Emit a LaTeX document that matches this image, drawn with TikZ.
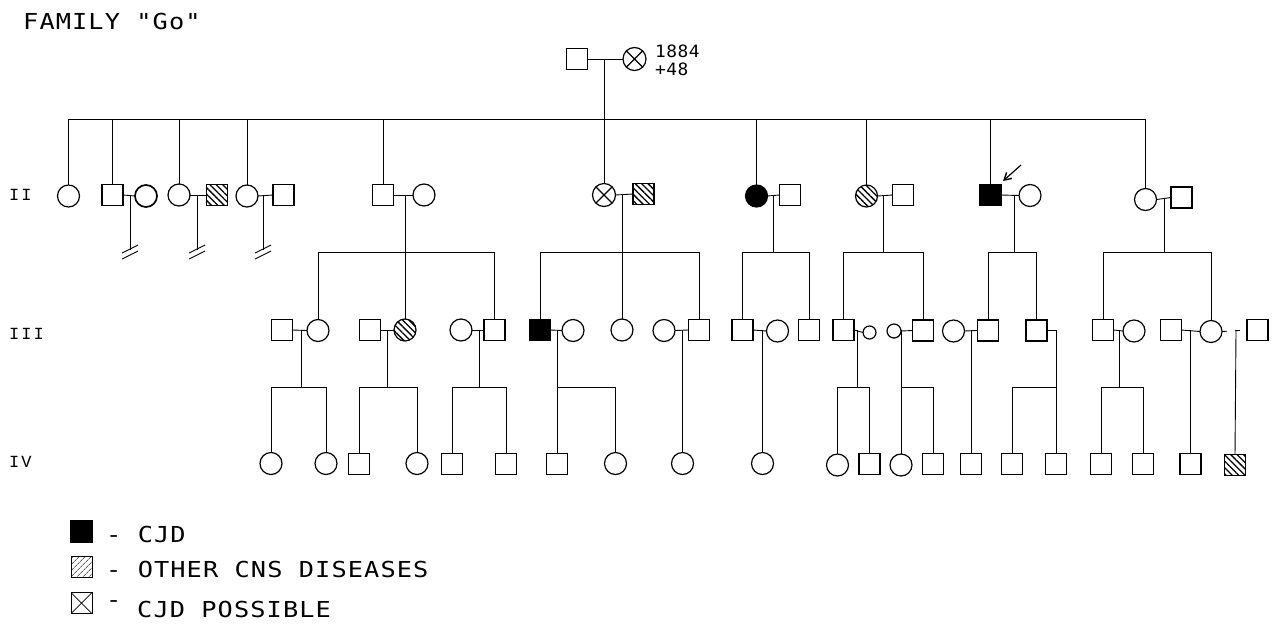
\documentclass[tikz,border=0pt]{standalone}
\usepackage{fontspec}
\usetikzlibrary{patterns.meta,arrows.meta}
\newfontfamily\tw{DejaVu Sans Mono}[FakeStretch=1.15,LetterSpace=5]
\newfontfamily\twn{DejaVu Sans Mono}[FakeStretch=1.05,LetterSpace=3]
\newfontfamily\gl{Liberation Mono}[LetterSpace=12]
\tikzset{
  ind/.style={draw, line width=1.2pt, inner sep=0pt, outer sep=0pt},
  male/.style={ind, rectangle, minimum width=21pt, minimum height=21pt},
  female/.style={ind, circle, minimum size=22pt},
  smallf/.style={ind, circle, minimum size=13pt},
  cjd/.style={fill=black},
  other/.style={pattern={Lines[angle=-45,distance=4.5pt,line width=1.3pt]}},
  possible/.style={path picture={\draw[line width=1.1pt] (path picture bounding box.north west) -- (path picture bounding box.south east) (path picture bounding box.north east) -- (path picture bounding box.south west);}},
  conn/.style={line width=0.9pt},
  gen/.style={font=\gl\fontsize{17}{19}\selectfont, anchor=base west, inner sep=0pt},
  lbl/.style={font=\tw\fontsize{22}{26}\selectfont, anchor=base west, inner sep=0pt},
  nlbl/.style={font=\twn\fontsize{17}{20}\selectfont, anchor=base west, inner sep=0pt},
}
\begin{document}
\begin{tikzpicture}[x=1pt,y=-1pt]
\fill[white] (0,0) rectangle (1276,643);
\useasboundingbox (0,0) rectangle (1276,643);

% title and generation labels
\node[lbl] (title) at (23,29) {FAMILY "Go"};
\node[gen] (gII) at (9,200) {II};
\node[gen] (gIII) at (9,339) {III};
\node[gen] (gIV) at (9,467) {IV};

% ---------- generation I ----------
\node[male] (I1) at (577,59) {};
\node[female,possible,minimum size=23pt] (I2) at (634.5,59) {};
\node[nlbl] (yr) at (655,57.5) {1884};
\node[nlbl] (age) at (655,75) {+48};
\draw[conn] (I1.east) -- (I2.west);
\coordinate (d1) at (604,59);
\coordinate (s2) at (0,119);
\coordinate (s3) at (0,252);
\coordinate (s4) at (0,387);
\draw[conn] (d1) -- (d1 |- s2);

% ---------- generation II ----------
\node[female] (A1) at (68.5,196) {};
\node[male] (A2) at (112.5,195) {};
\node[female,line width=1.7pt] (A3) at (146,196) {};
\node[female] (A4) at (179,195) {};
\node[male,other] (A5) at (217,195) {};
\node[female] (A6) at (247,196) {};
\node[male] (A7) at (283.5,195) {};
\node[male] (A8) at (383,195) {};
\node[female] (A9) at (424,195) {};
\node[female,possible,minimum size=23pt] (A10) at (604,195) {};
\node[male,other] (A11) at (643.5,194) {};
\node[female,cjd] (A12) at (756.5,196) {};
\node[male] (A13) at (790,195) {};
\node[female,other] (A14) at (866.5,196) {};
\node[male] (A15) at (903,195) {};
\node[male,cjd] (A16) at (990.5,195) {};
\node[female] (A17) at (1030,195.5) {};
\node[female] (A18) at (1145.5,199.5) {};
\node[male] (A19) at (1181.5,197.5) {};

\draw[conn] (A1.north |- s2) -- (A18.north |- s2);
\foreach \n in {A1,A2,A4,A6,A8,A10,A12,A14,A16,A18}
  \draw[conn] (\n.north) -- (\n.north |- s2);

% marriages generation II
\draw[conn] (A2.east) -- (A3.west);
\draw[conn] (A4.east) -- (A5.west);
\draw[conn] (A6.east) -- (A7.west);
\draw[conn] (A8.east) -- (A9.west);
\draw[conn] (A10.east) -- (A11.west);
\draw[conn] (A12.east) -- (A13.west);
\draw[conn] (A14.east) -- (A15.west);
\draw[conn] (A16.east) -- (A17.west);
\draw[conn] (A18.east) -- (A19.west);

% childless couples
\coordinate (d23) at (130,195);
\coordinate (d45) at (197,195);
\coordinate (d67) at (263,195);
\foreach \c in {d23,d45,d67}{
  \draw[conn] (\c) -- ++(0,55) coordinate (e\c);
  \draw[conn] (e\c) ++(-8,3) -- ++(16,-8);
  \draw[conn] (e\c) ++(-8,9) -- ++(16,-8);
}

% descents to generation III
\coordinate (d89) at (405,195);
\coordinate (d1011) at (622,195);
\coordinate (d1213) at (773,196);
\coordinate (d1415) at (883,196);
\coordinate (d1617) at (1014,195);
\coordinate (d1819) at (1164,198);
\foreach \c in {d89,d1011,d1213,d1415,d1617,d1819}
  \draw[conn] (\c) -- (\c |- s3);

% ---------- generation III ----------
\node[male] (B1) at (282,330) {};
\node[female] (B2) at (318,330.5) {};
\node[male] (B3) at (370,330) {};
\node[female,other] (B4) at (405,330) {};
\node[female] (B5) at (461,330) {};
\node[male] (B6) at (494.5,330) {};
\node[male,cjd] (B7) at (540,330) {};
\node[female] (B8) at (573,330.5) {};
\node[female] (B9) at (622,330) {};
\node[female] (B10) at (664,330.5) {};
\node[male] (B11) at (699,330) {};
\node[male] (B12) at (742.5,330) {};
\node[female] (B13) at (777.5,331) {};
\node[male] (B14) at (809,330) {};
\node[male] (B15) at (843.5,330) {};
\node[smallf] (B16) at (869.5,332.5) {};
\node[smallf,minimum size=14pt] (B17) at (894,331) {};
\node[male] (B18) at (923,330.5) {};
\node[female] (B19) at (953.5,331) {};
\node[male] (B20) at (988,330.5) {};
\node[male] (B21) at (1036.5,330.5) {};
\node[male] (B22) at (1103,330) {};
\node[female] (B23) at (1134,331) {};
\node[male] (B24) at (1171,330) {};
\node[female] (B25) at (1211,331.5) {};
\node[male] (B26) at (1257.5,330) {};

% sibships generation III
\draw[conn] (B2.north |- s3) -- (B6.north |- s3);
\draw[conn] (B7.north |- s3) -- (B11.north |- s3);
\draw[conn] (B12.north |- s3) -- (B14.north |- s3);
\draw[conn] (B15.north |- s3) -- (B18.north |- s3);
\draw[conn] (B20.north |- s3) -- (B21.north |- s3);
\draw[conn] (B22.north |- s3) -- (B25.north |- s3);
\foreach \n in {B2,B4,B6,B7,B9,B11,B12,B14,B15,B18,B20,B21,B22,B25}
  \draw[conn] (\n.north) -- (\n.north |- s3);

% marriages generation III
\draw[conn] (B1.east) -- (B2.west);
\draw[conn] (B3.east) -- (B4.west);
\draw[conn] (B5.east) -- (B6.west);
\draw[conn] (B7.east) -- (B8.west);
\draw[conn] (B10.east) -- (B11.west);
\draw[conn] (B12.east) -- (B13.west);
\draw[conn] (B15.east) -- (B16.west);
\draw[conn] (B17.east) -- (B18.west);
\draw[conn] (B19.east) -- (B20.west);
\draw[conn] (B22.east) -- (B23.west);
\draw[conn] (B24.east) -- (B25.west);
\draw[conn,dash pattern=on 5pt off 8pt] (B25.east) -- (B26.west);

% ---------- generation IV ----------
\node[female] (C1) at (271,463.5) {};
\node[female] (C2) at (326,463.5) {};
\node[male] (C3) at (359,464) {};
\node[female] (C4) at (417,463.5) {};
\node[male] (C5) at (452,464) {};
\node[male] (C6) at (506,464) {};
\node[male] (C7) at (557,464) {};
\node[female] (C8) at (615.5,463.5) {};
\node[female] (C9) at (682.5,463.5) {};
\node[female] (C10) at (762.5,463.5) {};
\node[female] (C11) at (837.5,465) {};
\node[male] (C12) at (869.5,464) {};
\node[female] (C13) at (901,465) {};
\node[male] (C14) at (933,464) {};
\node[male] (C15) at (971,464) {};
\node[male] (C16) at (1012,464) {};
\node[male] (C17) at (1056,464) {};
\node[male] (C18) at (1101,464) {};
\node[male] (C19) at (1143,464) {};
\node[male] (C20) at (1190.5,464) {};
\node[male,other] (C21) at (1235,465) {};

% descents to generation IV
\coordinate (f12) at (301,330);
\coordinate (f34) at (387,330);
\coordinate (f56) at (479,330);
\coordinate (f78) at (557,330);
\coordinate (f1011) at (682.5,330);
\coordinate (f1213) at (762.5,330);
\coordinate (f1516) at (857,330);
\coordinate (f1718) at (901,330);
\coordinate (f1920) at (971,330);
\coordinate (f21) at (1056,330.5);
\coordinate (f2223) at (1119,330);
\coordinate (f2425) at (1190.5,330);
\coordinate (f2526) at (1236,330.5);

\draw[conn] (f12) -- (f12 |- s4);
\draw[conn] (C1.north |- s4) -- (C2.north |- s4);
\draw[conn] (f34) -- (f34 |- s4);
\draw[conn] (C3.north |- s4) -- (C4.north |- s4);
\draw[conn] (f56) -- (f56 |- s4);
\draw[conn] (C5.north |- s4) -- (C6.north |- s4);
\draw[conn] (f78) -- (C7.north);
\draw[conn] (C7.north |- s4) -- (C8.north |- s4);
\draw[conn] (f1011) -- (C9.north);
\draw[conn] (f1213) -- (C10.north);
\draw[conn] (f1516) -- (f1516 |- s4);
\draw[conn] (C11.north |- s4) -- (C12.north |- s4);
\draw[conn] (f1718) -- (C13.north);
\draw[conn] (C13.north |- s4) -- (C14.north |- s4);
\draw[conn] (f1920) -- (C15.north);
\draw[conn] (B21.east) -- (f21) -- (C17.north);
\draw[conn] (C16.north |- s4) -- (C17.north |- s4);
\draw[conn] (f2223) -- (f2223 |- s4);
\draw[conn] (C18.north |- s4) -- (C19.north |- s4);
\draw[conn] (f2425) -- (C20.north);
\draw[conn] (f2526) -- (C21.north);
\foreach \n in {C1,C2,C3,C4,C5,C6,C8,C11,C12,C14,C16,C18,C19}
  \draw[conn] (\n.north) -- (\n.north |- s4);

% proband arrow
\coordinate (arT) at (1021,165);
\coordinate (arH) at (1003,181);
\draw[line width=1.2pt,-{Straight Barb[length=7pt,width=8pt,line width=1.4pt]}] (arT) -- (arH);

% ---------- legend ----------
\node[male,cjd,minimum width=22pt,minimum height=22pt,line width=0.8pt] (L1) at (81,531) {};
\node[male,line width=0.8pt,pattern={Lines[angle=45,distance=4pt,line width=0.6pt]}] (L2) at (81.5,566.5) {};
\node[male,line width=0.8pt,path picture={\draw[line width=0.7pt] (path picture bounding box.north west) -- (path picture bounding box.south east) (path picture bounding box.north east) -- (path picture bounding box.south west);}] (L3) at (81.5,603) {};
\node[lbl] (L1t) at (106,542) {- CJD};
\node[lbl] (L2t) at (106,577) {- OTHER CNS DISEASES};
\node[lbl] (L3d) at (106,607) {-};
\node[lbl] (L3t) at (137,617) {CJD POSSIBLE};
\end{tikzpicture}
\end{document}
